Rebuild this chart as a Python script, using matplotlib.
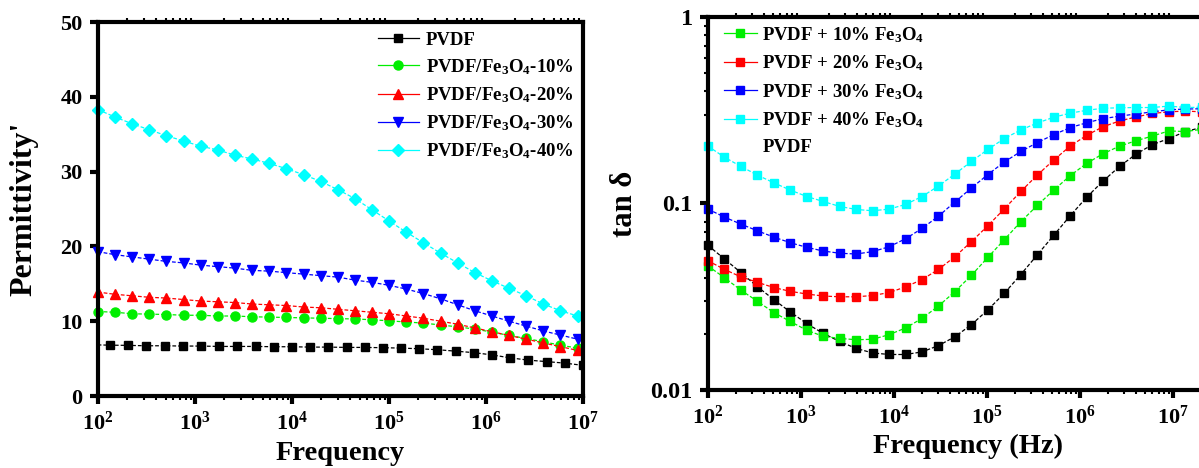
import numpy as np
import matplotlib
matplotlib.use('Agg')
import matplotlib.pyplot as plt
from matplotlib.lines import Line2D
from matplotlib.ticker import LogLocator, NullFormatter

plt.rcParams['font.family'] = ['Liberation Serif', 'DejaVu Serif']
plt.rcParams['font.weight'] = 'bold'
plt.rcParams['mathtext.fontset'] = 'custom'
plt.rcParams['mathtext.rm'] = 'Liberation Serif:bold'
plt.rcParams['mathtext.bf'] = 'Liberation Serif:bold'
plt.rcParams['mathtext.it'] = 'Liberation Serif:bold:italic'
plt.rcParams['mathtext.default'] = 'bf'

# ---- left panel: permittivity ----
freq_pvdf = np.logspace(1.9375, 7.0, 28)
freq_comp = np.logspace(2.0, 6.945, 29)

eps_pvdf = [6.85, 6.8, 6.77, 6.72, 6.72, 6.68, 6.68, 6.63, 6.63, 6.63, 6.59, 6.59, 6.54, 6.54,
            6.5, 6.5, 6.46, 6.41, 6.32, 6.19, 6.0, 5.8, 5.5, 5.1, 4.8, 4.6, 4.4, 4.1]
eps_10 = [11.3, 11.2, 11.0, 10.95, 10.9, 10.8, 10.8, 10.7, 10.7, 10.6, 10.55, 10.5, 10.45, 10.4,
          10.35, 10.3, 10.2, 10.05, 9.9, 9.75, 9.5, 9.25, 8.95, 8.55, 8.1, 7.7, 7.25, 6.8, 6.4]
eps_20 = [13.9, 13.6, 13.4, 13.2, 13.1, 12.9, 12.7, 12.6, 12.5, 12.3, 12.2, 12.1, 11.9, 11.8,
          11.6, 11.4, 11.2, 11.0, 10.7, 10.4, 10.0, 9.6, 9.1, 8.6, 8.1, 7.6, 7.1, 6.6, 6.1]
eps_30 = [19.3, 18.9, 18.6, 18.3, 18.0, 17.8, 17.5, 17.3, 17.1, 16.8, 16.7, 16.5, 16.3, 16.1,
          15.9, 15.5, 15.2, 14.8, 14.3, 13.7, 13.0, 12.2, 11.4, 10.7, 10.0, 9.35, 8.7, 8.15, 7.6]
eps_40 = [38.3, 37.3, 36.4, 35.6, 34.8, 34.1, 33.4, 32.9, 32.2, 31.7, 31.1, 30.4, 29.6, 28.7,
          27.6, 26.4, 24.9, 23.4, 21.9, 20.5, 19.1, 17.8, 16.5, 15.4, 14.4, 13.4, 12.3, 11.4, 10.7]

# ---- right panel: tan delta ----
freq_tan = np.logspace(2.0, 2.0 + 0.177 * 30, 31)

tan_pvdf = [0.0596, 0.0504, 0.0426, 0.0358, 0.0305, 0.0262, 0.0227, 0.0201, 0.0182, 0.0167,
            0.0158, 0.0155, 0.0155, 0.0160, 0.0173, 0.0193, 0.0224, 0.0269, 0.0330, 0.0416,
            0.0530, 0.0675, 0.0859, 0.108, 0.132, 0.158, 0.184, 0.207, 0.223, 0.243, 0.256]
tan_10 = [0.0462, 0.0400, 0.0343, 0.0299, 0.0260, 0.0233, 0.0209, 0.0194, 0.0189, 0.0186,
          0.0187, 0.0198, 0.0215, 0.0242, 0.0282, 0.0337, 0.0412, 0.0514, 0.0640, 0.0798,
          0.0976, 0.118, 0.141, 0.164, 0.185, 0.203, 0.217, 0.230, 0.245, 0.243, 0.25]
tan_20 = [0.0493, 0.0443, 0.0404, 0.0378, 0.0354, 0.0338, 0.0327, 0.0319, 0.0316, 0.0316,
          0.0321, 0.0333, 0.0357, 0.0391, 0.0443, 0.0519, 0.0624, 0.0760, 0.0936, 0.116,
          0.142, 0.171, 0.203, 0.232, 0.258, 0.277, 0.291, 0.304, 0.310, 0.313, 0.31]
tan_30 = [0.0933, 0.0845, 0.0775, 0.0714, 0.0660, 0.0616, 0.0582, 0.0556, 0.0541, 0.0536,
          0.0552, 0.0586, 0.0647, 0.0735, 0.0855, 0.102, 0.121, 0.143, 0.167, 0.190,
          0.212, 0.234, 0.255, 0.271, 0.285, 0.294, 0.302, 0.310, 0.318, 0.321, 0.322]
tan_40 = [0.203, 0.177, 0.158, 0.142, 0.129, 0.118, 0.109, 0.1025, 0.0964, 0.0929,
          0.0914, 0.0933, 0.0988, 0.109, 0.124, 0.144, 0.168, 0.195, 0.223, 0.248,
          0.270, 0.290, 0.305, 0.316, 0.324, 0.326, 0.327, 0.327, 0.333, 0.327, 0.328]

green = '#00ee00'
cyan = '#00ffff'

fig = plt.figure(figsize=(11.99, 4.68), dpi=100)

# left
ax1 = fig.add_axes([0.0817, 0.1538, 0.4045, 0.799])
dash = (3, 1.6)
ax1.plot(freq_pvdf, eps_pvdf, color='black', marker='s', ms=5.2, lw=0.9, dashes=dash, label='PVDF')
ax1.plot(freq_comp, eps_10, color=green, marker='o', ms=6.5, lw=0.9, dashes=dash,
         label='PVDF/Fe$_3$O$_4$-10%', clip_on=False)
ax1.plot(freq_comp, eps_20, color='red', marker='^', ms=7, lw=0.9, dashes=dash,
         label='PVDF/Fe$_3$O$_4$-20%', clip_on=False)
ax1.plot(freq_comp, eps_30, color='blue', marker='v', ms=7, lw=0.9, dashes=dash,
         label='PVDF/Fe$_3$O$_4$-30%', clip_on=False)
ax1.plot(freq_comp, eps_40, color=cyan, marker='D', ms=6, lw=0.9, dashes=dash,
         label='PVDF/Fe$_3$O$_4$-40%', clip_on=False)
ax1.set_xscale('log')
ax1.set_xlim(1e2, 1e7)
ax1.set_ylim(0, 50)
ax1.set_yticks([0, 10, 20, 30, 40, 50])
ax1.set_xlabel('Frequency', fontsize=20.5, fontweight='bold', labelpad=5)
ax1.set_ylabel("Permittivity'", fontsize=23, fontweight='bold', labelpad=16)
leg1 = ax1.legend(loc='upper right', frameon=False, fontsize=13.5, handlelength=2.2,
                  handletextpad=0.37, labelspacing=0.45, borderaxespad=0.2, borderpad=0.3)
for h in leg1.get_lines():
    h.set_linestyle('-')

# right
ax2 = fig.add_axes([0.5905, 0.1667, 0.4344, 0.797])
ax2.plot(freq_tan, tan_pvdf, color='black', marker='s', ms=6, lw=0.9, dashes=dash, clip_on=False)
h10, = ax2.plot(freq_tan, tan_10, color=green, marker='s', ms=6, lw=0.9, dashes=dash, clip_on=False)
h20, = ax2.plot(freq_tan, tan_20, color='red', marker='s', ms=6, lw=0.9, dashes=dash, clip_on=False)
h30, = ax2.plot(freq_tan, tan_30, color='blue', marker='s', ms=6, lw=0.9, dashes=dash, clip_on=False)
h40, = ax2.plot(freq_tan, tan_40, color=cyan, marker='s', ms=6, lw=0.9, dashes=dash, clip_on=False)
ax2.set_xscale('log')
ax2.set_yscale('log')
ax2.set_xlim(1e2, 10 ** 7.6)
ax2.set_ylim(0.01, 1)
ax2.set_yticks([0.01, 0.1, 1])
ax2.set_yticklabels(['0.01', '0.1', '1'])
ax2.set_xticks([1e2, 1e3, 1e4, 1e5, 1e6, 1e7])
ax2.set_xlabel('Frequency (Hz)', fontsize=20.5, fontweight='bold', labelpad=4)
ax2.set_ylabel('tan δ', fontsize=22, fontweight='bold', labelpad=8)
blank = Line2D([], [], color='none')
leg2 = ax2.legend([h10, h20, h30, h40, blank],
                  ['PVDF + 10% Fe$_3$O$_4$', 'PVDF + 20% Fe$_3$O$_4$', 'PVDF + 30% Fe$_3$O$_4$',
                   'PVDF + 40% Fe$_3$O$_4$', 'PVDF'],
                  loc='upper left', bbox_to_anchor=(0.02, 0.9936), frameon=False, fontsize=13.5,
                  handlelength=1.75, handletextpad=0.3, labelspacing=0.47, borderaxespad=0,
                  borderpad=0.3)
for h in leg2.get_lines():
    h.set_linestyle('-')

for ax in (ax1, ax2):
    for s in ax.spines.values():
        s.set_linewidth(3)
    ax.tick_params(which='major', direction='out', length=6, width=3, labelsize=16, pad=5)
    ax.tick_params(which='minor', direction='out', length=3, width=1.5)
    ax.xaxis.set_minor_locator(LogLocator(base=10, subs=np.arange(2, 10)))
    ax.xaxis.set_minor_formatter(NullFormatter())
    ax.tick_params(axis='x', which='minor', top=True)
    for lab in ax.get_xticklabels() + ax.get_yticklabels():
        lab.set_fontweight('bold')

ax1.tick_params(axis='y', which='minor', left=False)
ax2.tick_params(axis='y', which='major', labelsize=17.5)
ax2.yaxis.set_minor_locator(LogLocator(base=10, subs=np.arange(2, 10)))
ax2.yaxis.set_minor_formatter(NullFormatter())

fig.savefig('out.png', dpi=100)
